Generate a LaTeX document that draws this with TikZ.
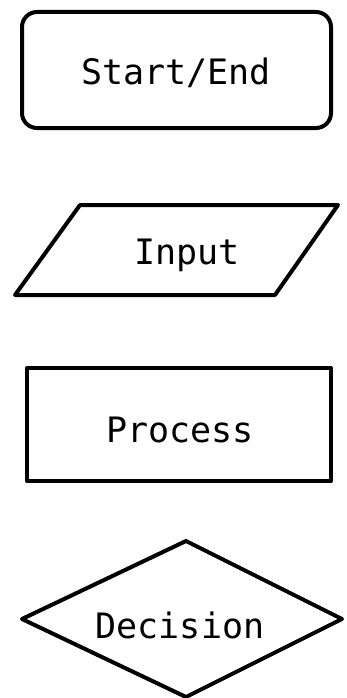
\documentclass[tikz,border=0pt]{standalone}
\usepackage{fontspec}
\setmonofont{DejaVu Sans Mono}
\begin{document}
\begin{tikzpicture}[x=1pt,y=-1pt,
  shapeline/.style={draw=black,line width=4pt,line join=round},
  lbl/.style={font=\fontsize{35}{40}\ttfamily,inner sep=0pt,anchor=center}]
\useasboundingbox (0,0) rectangle (346,698);
\draw[shapeline,rounded corners=15pt] (22,12) rectangle (331,128);
\node[lbl] (startend) at (176,73) {Start/End};
\draw[shapeline] (80,205) -- (338,205) -- (275,295) -- (15,295) -- cycle;
\node[lbl] (input) at (187,255) {Input};
\draw[shapeline] (27,368) rectangle (331,481);
\node[lbl] (process) at (180,430) {Process};
\draw[shapeline] (186,541) -- (342,619) -- (186,697) -- (22,619) -- cycle;
\node[lbl] (decision) at (180,625) {Decision};
\end{tikzpicture}
\end{document}
